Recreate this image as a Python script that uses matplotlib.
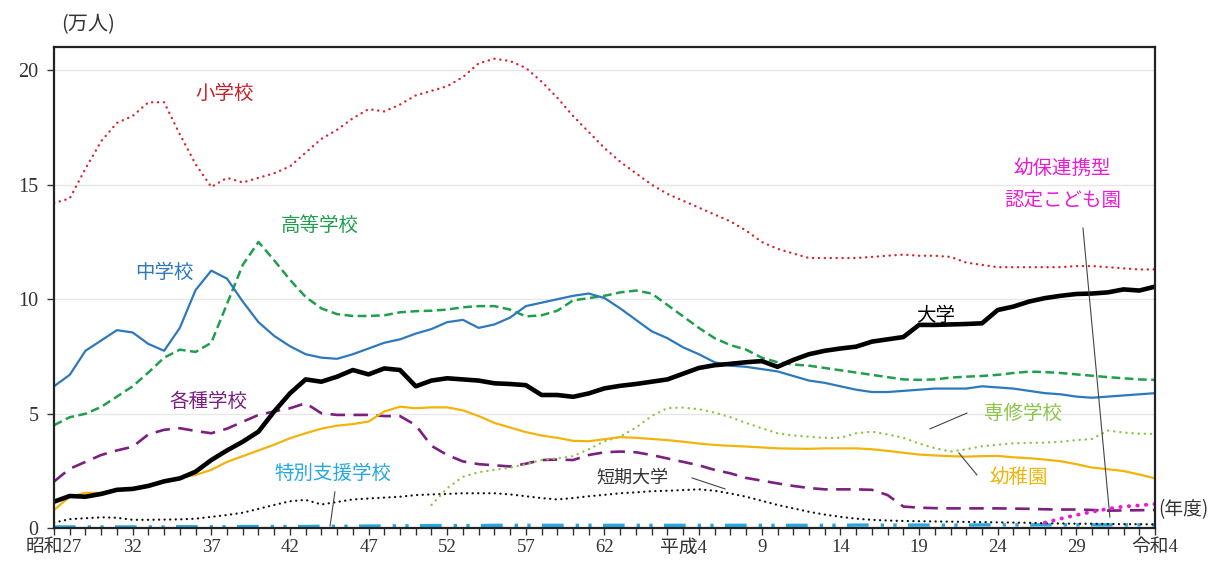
import numpy as np
import matplotlib
matplotlib.use("Agg")
import matplotlib.pyplot as plt

plt.rcParams['font.family'] = ['Noto Sans CJK JP', 'DejaVu Sans']

years = np.arange(1952, 2023)

# 万人
shogakko = [14.2, 14.4, 15.7, 16.9, 17.7, 18.0, 18.6, 18.6, 17.2, 15.9,
            14.9, 15.3, 15.1, 15.3, 15.5, 15.8, 16.4, 17.0, 17.4, 17.9,
            18.3, 18.2, 18.5, 18.9, 19.1, 19.3, 19.7, 20.3, 20.5, 20.4,
            20.1, 19.5, 18.8, 18.0, 17.3, 16.6, 16.0, 15.5, 15.0, 14.6,
            14.3, 14.0, 13.7, 13.4, 13.0, 12.5, 12.2, 12.0, 11.8, 11.8,
            11.8, 11.8, 11.85, 11.9, 11.95, 11.9, 11.9, 11.85, 11.6, 11.5,
            11.4, 11.4, 11.4, 11.4, 11.4, 11.45, 11.45, 11.4, 11.35, 11.3,
            11.3]
chugakko = [6.2, 6.7, 7.75, 8.2, 8.65, 8.55, 8.05, 7.75, 8.75, 10.4,
            11.25, 10.9, 9.9, 9.0, 8.4, 7.95, 7.6, 7.45, 7.4, 7.6,
            7.85, 8.1, 8.25, 8.5, 8.7, 9.0, 9.1, 8.75, 8.9, 9.2,
            9.7, 9.85, 10.0, 10.15, 10.25, 10.05, 9.6, 9.1, 8.6, 8.3,
            7.9, 7.6, 7.25, 7.1, 7.05, 6.95, 6.85, 6.65, 6.45, 6.35,
            6.2, 6.05, 5.95, 5.95, 6.0, 6.05, 6.1, 6.1, 6.1, 6.2,
            6.15, 6.1, 6.0, 5.9, 5.85, 5.75, 5.7, 5.75, 5.8, 5.85,
            5.9]
kotogakko = [4.5, 4.85, 5.0, 5.3, 5.75, 6.2, 6.8, 7.45, 7.8, 7.7,
             8.1, 9.8, 11.5, 12.5, 11.7, 10.85, 10.1, 9.6, 9.35, 9.27,
             9.27, 9.3, 9.43, 9.48, 9.5, 9.55, 9.65, 9.7, 9.7, 9.55,
             9.25, 9.3, 9.5, 9.95, 10.05, 10.15, 10.3, 10.38, 10.25, 9.75,
             9.25, 8.75, 8.3, 8.0, 7.8, 7.45, 7.25, 7.15, 7.1, 7.0,
             6.9, 6.8, 6.7, 6.6, 6.5, 6.48, 6.5, 6.58, 6.62, 6.65,
             6.7, 6.78, 6.84, 6.82, 6.78, 6.72, 6.66, 6.6, 6.55, 6.5,
             6.48]
daigaku = [1.16, 1.41, 1.38, 1.5, 1.68, 1.72, 1.85, 2.05, 2.18, 2.47,
           2.98, 3.4, 3.78, 4.22, 5.1, 5.89, 6.5, 6.4, 6.62, 6.91,
           6.72, 6.98, 6.91, 6.2, 6.45, 6.55, 6.5, 6.45, 6.33, 6.3,
           6.25, 5.82, 5.82, 5.74, 5.89, 6.11, 6.22, 6.3, 6.4, 6.5,
           6.75, 7.0, 7.12, 7.18, 7.25, 7.3, 7.05, 7.35, 7.6, 7.75,
           7.85, 7.93, 8.15, 8.25, 8.35, 8.88, 8.88, 8.9, 8.92, 8.95,
           9.53, 9.68, 9.9, 10.05, 10.15, 10.23, 10.25, 10.3, 10.43, 10.38,
           10.55]
yochien = [0.8, 1.38, 1.55, 1.55, 1.68, 1.75, 1.9, 2.05, 2.2, 2.33,
           2.55, 2.9, 3.15, 3.4, 3.65, 3.93, 4.15, 4.35, 4.48, 4.55,
           4.66, 5.1, 5.31, 5.24, 5.28, 5.28, 5.15, 4.9, 4.6, 4.4,
           4.2, 4.05, 3.95, 3.82, 3.8, 3.89, 3.98, 3.95, 3.9, 3.85,
           3.78, 3.7, 3.64, 3.6, 3.57, 3.53, 3.49, 3.48, 3.47, 3.49,
           3.49, 3.49, 3.45, 3.38, 3.3, 3.22, 3.18, 3.15, 3.13, 3.15,
           3.16, 3.1, 3.06, 3.0, 2.93, 2.8, 2.65, 2.58, 2.5, 2.35,
           2.18]
kakushu = [2.04, 2.6, 2.9, 3.2, 3.4, 3.56, 4.1, 4.3, 4.37, 4.25,
           4.15, 4.35, 4.65, 4.95, 5.1, 5.24, 5.46, 5.02, 4.95, 4.95,
           4.95, 4.9, 4.9, 4.5, 3.6, 3.2, 2.92, 2.8, 2.75, 2.7,
           2.82, 2.98, 3.0, 2.98, 3.2, 3.32, 3.35, 3.32, 3.2, 3.05,
           2.9, 2.75, 2.55, 2.4, 2.2, 2.08, 1.96, 1.85, 1.76, 1.7,
           1.7, 1.7, 1.68, 1.45, 0.95, 0.9, 0.88, 0.87, 0.87, 0.87,
           0.87, 0.86, 0.85, 0.83, 0.82, 0.82, 0.8, 0.77, 0.78, 0.79,
           0.8]
tanki = [0.25, 0.4, 0.44, 0.48, 0.46, 0.37, 0.37, 0.38, 0.39, 0.42,
         0.5, 0.58, 0.68, 0.85, 1.02, 1.18, 1.24, 1.04, 1.15, 1.26,
         1.3, 1.34, 1.38, 1.45, 1.48, 1.5, 1.53, 1.53, 1.53, 1.48,
         1.4, 1.32, 1.26, 1.32, 1.4, 1.46, 1.53, 1.57, 1.62, 1.64,
         1.67, 1.7, 1.64, 1.52, 1.38, 1.2, 1.02, 0.87, 0.72, 0.6,
         0.5, 0.42, 0.37, 0.34, 0.32, 0.31, 0.3, 0.29, 0.28, 0.27,
         0.26, 0.25, 0.24, 0.22, 0.21, 0.2, 0.2, 0.19, 0.18, 0.18,
         0.17]
tokubetsu = [0.06, 0.06, 0.06, 0.06, 0.06, 0.06, 0.06, 0.06, 0.07, 0.07,
             0.07, 0.07, 0.08, 0.08, 0.08, 0.08, 0.08, 0.09, 0.09, 0.09,
             0.1, 0.1, 0.11, 0.11, 0.12, 0.12, 0.12, 0.12, 0.13, 0.13,
             0.13, 0.13, 0.13, 0.13, 0.13, 0.13, 0.13, 0.13, 0.13, 0.13,
             0.13, 0.13, 0.13, 0.13, 0.13, 0.13, 0.13, 0.13, 0.13, 0.13,
             0.13, 0.14, 0.14, 0.14, 0.14, 0.14, 0.14, 0.14, 0.14, 0.15,
             0.15, 0.15, 0.15, 0.15, 0.15, 0.15, 0.15, 0.15, 0.15, 0.15,
             0.15]

senshu_years = np.arange(1976, 2023)
senshu = [1.02, 1.75, 2.25, 2.45, 2.55, 2.65, 2.8, 2.98, 3.05, 3.15,
          3.45, 3.8, 4.0, 4.4, 4.9, 5.25, 5.27, 5.2, 5.05, 4.85,
          4.6, 4.37, 4.15, 4.05, 4.0, 3.95, 3.95, 4.15, 4.22, 4.1,
          3.95, 3.7, 3.5, 3.35, 3.45, 3.58, 3.65, 3.71, 3.73, 3.74,
          3.78, 3.85, 3.9, 4.27, 4.18, 4.13, 4.12]

kodomoen_years = np.arange(2015, 2023)
kodomoen = [0.25, 0.42, 0.58, 0.72, 0.85, 0.95, 1.0, 1.06]

tick_years = np.arange(1952, 2023, 5)
tick_labels = ['昭和27', '32', '37', '42', '47', '52', '57', '62',
               '平成4', '9', '14', '19', '24', '29', '令和4']

c_sho = '#d7262e'
c_chu = '#2e78bd'
c_ko = '#1f9f4d'
c_kaku = '#7b1f80'
c_toku = '#27a8e0'
c_sen = '#8dc44a'
c_yo = '#f2b40a'
c_kodomo = '#e81cd6'

fig = plt.figure(figsize=(12.18, 5.61), dpi=100)
ax = fig.add_axes([54 / 1218, 1 - 528.3 / 561, 1101 / 1218, 481 / 561])

for v in [5, 10, 15, 20]:
    ax.axhline(v, color='#e6e6e6', lw=0.9, zorder=0)

ax.plot(years, tokubetsu, color=c_toku, lw=2.4,
        linestyle=(0, (6.5, 3.6, 1.0, 2.8, 1.0, 3.4)))
ax.plot(years, tanki, color='#111111', lw=1.6,
        linestyle=(0, (0.1, 2.4)), dash_capstyle='round')
ax.plot(years, kakushu, color=c_kaku, lw=1.9,
        linestyle=(0, (5.5, 3.2)))
ax.plot(senshu_years, senshu, color=c_sen, lw=1.7,
        linestyle=(0, (0.1, 2.5)), dash_capstyle='round')
ax.plot(years, yochien, color=c_yo, lw=1.6)
ax.plot(years, kotogakko, color=c_ko, lw=1.8,
        linestyle=(0, (3.5, 1.8)))
ax.plot(years, chugakko, color=c_chu, lw=1.6)
ax.plot(years, shogakko, color=c_sho, lw=1.7,
        linestyle=(0, (0.1, 2.4)), dash_capstyle='round')
ax.plot(kodomoen_years, kodomoen, color=c_kodomo, lw=2.8,
        linestyle=(0, (0.1, 2.1)), dash_capstyle='round')
ax.plot(years, daigaku, color='black', lw=3.3)

ax.set_xlim(1952, 2022)
ax.set_ylim(0, 21)

for s in ax.spines.values():
    s.set_linewidth(1.6)
    s.set_color('#222222')

ax.set_yticks([0, 5, 10, 15, 20])
ax.set_xticks(tick_years)
ax.set_xticklabels(tick_labels)
ax.set_xticks(years, minor=True)
ax.tick_params(axis='y', length=5, width=1, labelsize=14.5, pad=6, colors='#333333')
ax.tick_params(axis='x', which='both', length=5, width=1, labelsize=13.5, pad=3,
               colors='#333333')
for lbl in ax.get_xticklabels() + ax.get_yticklabels():
    lbl.set_fontfamily(['Liberation Serif', 'Noto Sans CJK JP'])

fs = 14
ax.text(1962.87, 18.97, '小学校', color='#c8222a', fontsize=fs, ha='center', va='center')
ax.text(1968.9, 13.24, '高等学校', color=c_ko, fontsize=fs, ha='center', va='center')
ax.text(1959.0, 11.15, '中学校', color=c_chu, fontsize=fs, ha='center', va='center')
ax.text(1961.8, 5.52, '各種学校', color=c_kaku, fontsize=fs, ha='center', va='center')
ax.text(1969.74, 2.41, '特別支援学校', color=c_toku, fontsize=fs, ha='center', va='center')
ax.text(1988.8, 2.2, '短期大学', color='#333333', fontsize=fs - 1, ha='center', va='center')
ax.text(2013.6, 5.03, '専修学校', color=c_sen, fontsize=fs, ha='center', va='center')
ax.text(2013.35, 2.24, '幼稚園', color=c_yo, fontsize=fs, ha='center', va='center')
ax.text(2008.07, 9.27, '大学', color='black', fontsize=fs, ha='center', va='center')
ax.text(2016.08, 15.69, '幼保連携型', color=c_kodomo, fontsize=fs, ha='center', va='center')
ax.text(2016.14, 14.29, '認定こども園', color=c_kodomo, fontsize=fs, ha='center', va='center')

leaders = [
    ((1969.86, 1.59), (1969.55, 0.1)),
    ((1992.56, 2.2), (1994.66, 1.72)),
    ((2010.04, 5.03), (2007.69, 4.34)),
    ((2010.68, 2.33), (2009.53, 3.29)),
    ((2017.42, 13.11), (2019.13, 0.49)),
]
for (x0, y0), (x1, y1) in leaders:
    ax.plot([x0, x1], [y0, y1], color='#444444', lw=0.8)

fig.text(88 / 1218, 1 - 25 / 561, '(万人)', fontsize=14.5, color='#333333',
         ha='center', va='center')
fig.text(1158 / 1218, 1 - 510 / 561, '(年度)', fontsize=13.5, color='#333333',
         ha='left', va='center')

fig.savefig('out.png', dpi=100)
